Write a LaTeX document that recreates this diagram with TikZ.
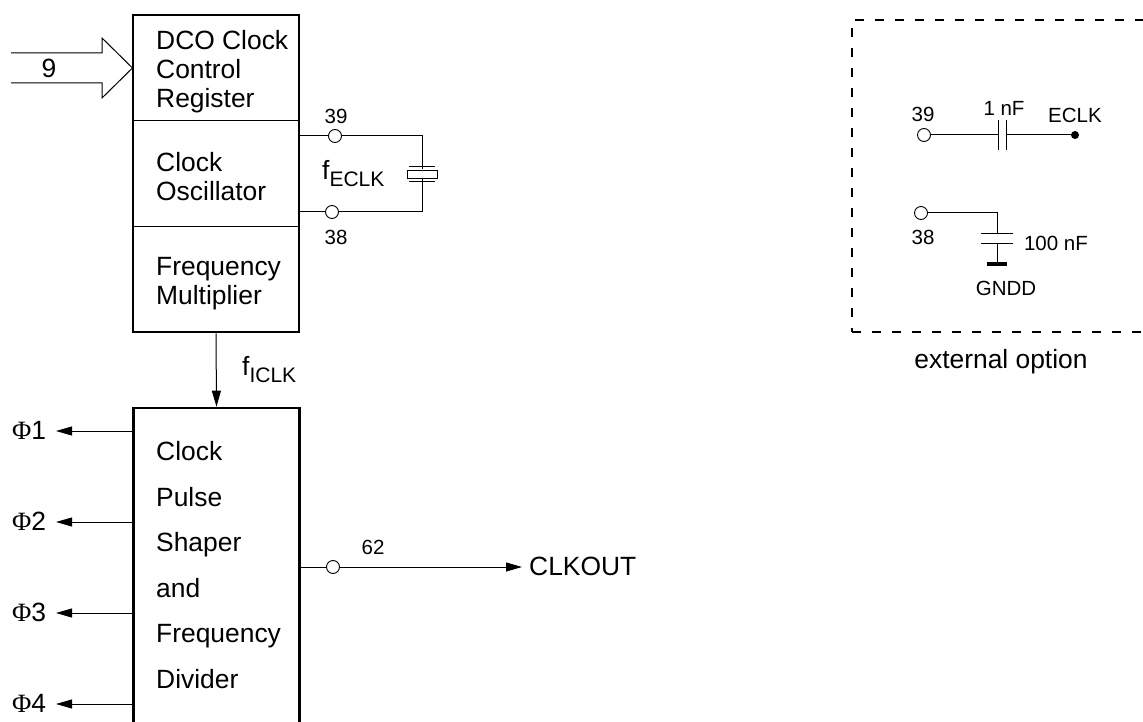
\documentclass[tikz,border=0pt]{standalone}
\usepackage{fontspec}
\setmainfont{Liberation Sans}
\newfontfamily\phifont{Liberation Serif}
\usetikzlibrary{arrows.meta, positioning}
\newcommand{\subtext}[1]{\raisebox{-7pt}{\fontsize{21}{21}\selectfont #1}}

\begin{document}
\begin{tikzpicture}[
    x=1pt, y=-1pt,
    blockbox/.style={draw, line width=2.6pt, minimum width=166pt, inner sep=0pt},
    cellbox/.style={draw, line width=1pt, minimum width=166pt, inner sep=0pt},
    celltext/.style={anchor=west, align=left, inner sep=0pt, font=\fontsize{26.4}{29}\selectfont},
    bigtext/.style={inner sep=0pt, font=\fontsize{26.4}{29}\selectfont},
    midtext/.style={inner sep=0pt, font=\fontsize{20.5}{24}\selectfont},
    pin/.style={draw, circle, fill=white, line width=0.9pt, minimum size=13pt, inner sep=0pt},
    wire/.style={line width=1pt},
    arrow/.style={-{Triangle[length=16pt, width=9pt]}, line width=1pt}
]
    \clip[use as bounding box] (0,0) rectangle (1143,722);

    % Upper block
    \node[cellbox, minimum height=106pt] (regcell) at (216,68) {};
    \node[cellbox, minimum height=106pt] (osccell) at (216,174) {};
    \node[cellbox, minimum height=105pt] (mulcell) at (216,279.5) {};
    \node[blockbox, minimum height=317pt] (mainblock) at (216,173.5) {};
    \node[celltext] (regtext) at (156,72) {DCO Clock\\Control\\Register};
    \node[celltext] (osctext) at (156,177) {Clock\\Oscillator};
    \node[celltext] (multext) at (156,284) {Frequency\\Multiplier};

    % Lower block
    \node[blockbox, minimum height=400pt] (divblock) at (216.5,608) {};
    \node[celltext, font=\fontsize{26.4}{45.5}\selectfont] (divtext) at (156,565) {Clock\\Pulse\\Shaper\\and\\Frequency\\Divider};

    % Bus input
    \coordinate (busa) at (11,53);
    \coordinate (busb) at (102,53);
    \coordinate (busc) at (102,38);
    \coordinate (busd) at (102,98);
    \coordinate (buse) at (102,83);
    \coordinate (busf) at (11,83);
    \draw[wire] (busa) -- (busb) -- (busc) -- (regcell.west) -- (busd) -- (buse) -- (busf);
    \node[bigtext] (buslabel) at (49,68) {9};

    % Crystal
    \node[pin] (pinxa) at (335,136) {};
    \node[pin] (pinxb) at (332,212) {};
    \node[midtext] (labelxa) at (336,116) {39};
    \node[midtext] (labelxb) at (336,237) {38};
    \node[draw, line width=1pt, minimum width=30pt, minimum height=8pt, inner sep=0pt] (xtal) at (422,174.5) {};
    \coordinate (xtalup) at (422,167);
    \coordinate (xtaldown) at (422,182);
    \draw[wire] ([xshift=-13pt]xtalup) -- ([xshift=13pt]xtalup);
    \draw[wire] ([xshift=-13pt]xtaldown) -- ([xshift=13pt]xtaldown);
    \draw[wire] (osccell.east |- pinxa) -- (pinxa);
    \draw[wire] (osccell.east |- pinxb) -- (pinxb);
    \draw[wire] (pinxa) -| ([yshift=-2pt]xtalup);
    \draw[wire] (pinxb) -| ([yshift=3pt]xtaldown);
    \node[bigtext, anchor=base west] (feclk) at (322,180) {f\subtext{ECLK}};

    % Clock between blocks
    \draw[arrow] (mainblock.south) -- (divblock.north);
    \node[bigtext, anchor=base west] (ficlk) at (242,375) {f\subtext{ICLK}};

    % Phase outputs
    \foreach \phase/\ypos in {1/431, 2/522, 3/613, 4/704} {
        \node[bigtext, anchor=west] (phi\phase) at (12,\ypos-1) {{\phifont\char"03A6}\phase};
        \coordinate (tip\phase) at (56,\ypos);
        \draw[arrow] (divblock.west |- tip\phase) -- (tip\phase);
    }

    % Clock output
    \node[pin] (pinout) at (333,567) {};
    \node[midtext] (labelout) at (373,547) {62};
    \node[bigtext, anchor=west] (clkout) at (529,566) {CLKOUT};
    \coordinate (tipout) at (522,567);
    \draw[wire] (divblock.east |- pinout) -- (pinout);
    \draw[arrow] (pinout) -- (tipout);

    % External option
    \node[draw, dash pattern=on 9pt off 11pt, line width=2.6pt, minimum width=400pt, minimum height=312pt, inner sep=0pt] (extbox) at (1052,176) {};
    \node[bigtext] (extlabel) at (1001,361.5) {external option};

    \node[pin] (pinea) at (924,135) {};
    \node[pin] (pineb) at (921,213) {};
    \node[midtext] (labelea) at (923,114) {39};
    \node[midtext] (labeleb) at (923,237) {38};
    \node[midtext] (capa) at (1004,108) {1 nF};
    \node[midtext] (eclk) at (1075,115) {ECLK};
    \node[midtext] (capb) at (1056,243) {100 nF};
    \node[midtext] (gndd) at (1006,288) {GNDD};

    \node[circle, fill=black, minimum size=8pt, inner sep=0pt] (eclkdot) at (1075,135) {};
    \coordinate (platea) at (998,135);
    \coordinate (plateb) at (1006,135);
    \draw[wire] (pinea) -- (platea);
    \draw[wire] (plateb) -- (eclkdot);
    \draw[wire] ([yshift=-15pt]platea) -- ([yshift=15pt]platea);
    \draw[wire] ([yshift=-15pt]plateb) -- ([yshift=15pt]plateb);

    \coordinate (platec) at (997,234);
    \coordinate (plated) at (997,243);
    \coordinate (ground) at (997,264);
    \draw[wire] (pineb) -| (platec);
    \draw[wire] (plated) -- (ground);
    \draw[wire] ([xshift=-16pt]platec) -- ([xshift=16pt]platec);
    \draw[wire] ([xshift=-16pt]plated) -- ([xshift=16pt]plated);
    \draw[line width=3.5pt] ([xshift=-10pt]ground) -- ([xshift=10pt]ground);

\end{tikzpicture}
\end{document}
